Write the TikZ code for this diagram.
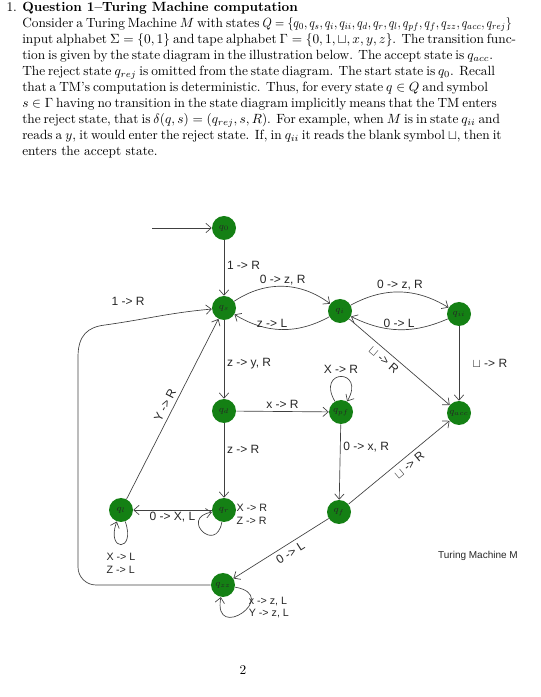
\documentclass[tikz,border=0pt]{standalone}
\usepackage{amsmath,amssymb}
\usepackage{graphicx}
\usepackage{fontspec}
\newfontfamily\handfont{Liberation Sans}
\usepackage{xcolor}
\usetikzlibrary{positioning,arrows.meta}
\definecolor{stategreen}{RGB}{20,128,20}
\hbadness=10000
\hfuzz=50pt

\begin{document}
\begin{tikzpicture}[x=0.75pt,y=0.75pt,
  tmstate/.style={circle, fill=stategreen, minimum size=18pt, inner sep=0pt, font=\scriptsize, text=black!85},
  trans/.style={-{Straight Barb[length=4pt,width=7pt]}, black!75, line width=0.5pt},
  lbl/.style={font=\handfont\small, text=black!85, inner sep=2pt},
  loopnote/.style={font=\handfont\footnotesize, text=black!85, inner sep=0pt, align=left}]
  \useasboundingbox (0,0) rectangle (540,697);
  % Question text
  \node[anchor=north west, inner sep=0pt, align=left] (intro) at (22,695) {%
    \llap{1.\hspace{4pt}}\textbf{Question 1--Turing Machine computation}\\
    \makebox[346pt][s]{Consider a Turing Machine $M$ with states \resizebox{187pt}{\height}{$Q=\{q_0,q_s,q_i,q_{ii},q_d,q_r,q_l,q_{pf},q_f,q_{zz},q_{acc},q_{rej}\}$}}\\
    \makebox[346pt][s]{input alphabet $\Sigma=\{0,1\}$ and tape alphabet $\Gamma=\{0,1,\sqcup,x,y,z\}$. The transition func-}\\
    \makebox[346pt][s]{tion is given by the state diagram in the illustration below. The accept state is $q_{acc}$.}\\
    \makebox[346pt][s]{The reject state $q_{rej}$ is omitted from the state diagram. The start state is $q_0$. Recall}\\
    \makebox[346pt][s]{that a TM's computation is deterministic. Thus, for every state $q\in Q$ and symbol}\\
    \makebox[346pt][s]{$s\in\Gamma$ having no transition in the state diagram implicitly means that the TM enters}\\
    \makebox[346pt][s]{the reject state, that is $\delta(q,s)=(q_{rej},s,R)$. For example, when $M$ is in state $q_{ii}$ and}\\
    \makebox[346pt][s]{reads a $y$, it would enter the reject state. If, in $q_{ii}$ it reads the blank symbol $\sqcup$, then it}\\
    enters the accept state.};
  % States
  \node[tmstate] (q0) at (224,469) {$q_0$};
  \node[tmstate] (qs) at (224,389) {$q_s$};
  \node[tmstate] (qi) at (340,386) {$q_i$};
  \node[tmstate] (qii) at (459,383) {$q_{ii}$};
  \node[tmstate] (qd) at (224,286) {$q_d$};
  \node[tmstate] (qpf) at (341,285) {$q_{pf}$};
  \node[tmstate] (qacc) at (459,284) {$q_{acc}$};
  \node[tmstate] (ql) at (121,187) {$q_l$};
  \node[tmstate] (qr) at (224,187) {$q_r$};
  \node[tmstate] (qf) at (339,185) {$q_f$};
  \node[tmstate] (qzz) at (223,112) {$q_{zz}$};
  \coordinate (start) at (152,469);
  % Transitions
  \draw[trans] (start) -- (q0);
  \draw[trans] (q0) -- node[lbl, right, pos=0.45] {1 -> R} (qs);
  \draw[trans] (qs) to[bend left=35] node[lbl, above, inner sep=1pt] {0 -> z, R} (qi);
  \draw[trans] (qi) to[bend left=30] node[lbl, above, pos=0.6, inner sep=1pt] {z -> L} (qs);
  \draw[trans] (qi) to[bend left=30] node[lbl, above, inner sep=1pt] {0 -> z, R} (qii);
  \draw[trans] (qii) to[bend left=25] node[lbl, above, inner sep=1pt] {0 -> L} (qi);
  \draw[trans] (qi) -- node[lbl, sloped, below, pos=0.4, inner sep=3pt] {$\sqcup$ -> R} (qacc);
  \draw[trans] (qii) -- node[lbl, right=8pt] {$\sqcup$ -> R} (qacc);
  \draw[trans] (qs) -- node[lbl, right, pos=0.55] {z -> y, R} (qd);
  \draw[trans] (qd) -- node[lbl, above] {x -> R} (qpf);
  \draw[trans] (qpf) to[out=120, in=60, looseness=8] node[lbl, above] {X -> R} (qpf);
  \draw[trans] (qpf) -- node[lbl, right, pos=0.3] {0 -> x, R} (qf);
  \draw[trans] (qf) -- node[lbl, sloped, below, pos=0.55, inner sep=3pt] {$\sqcup$ -> R} (qacc);
  \draw[trans] (qd) -- node[lbl, right, pos=0.35] {z -> R} (qr);
  \draw[trans] (qr) -- node[lbl, below, inner sep=1pt] {0 -> X, L} (ql);
  \draw[trans] (qr) to[out=-100, in=-170, looseness=6] (qr);
  \node[loopnote, right=0pt of qr, yshift=-3pt] (qrloop) {X -> R\\Z -> R};
  \draw[trans] (ql) to[out=-70, in=-110, looseness=10] (ql);
  \node[loopnote, below=23pt of ql] (qlloop) {X -> L\\Z -> L};
  \draw[trans] (ql) -- node[lbl, sloped, above, pos=0.5, inner sep=3pt] {Y -> R} (qs);
  \draw[trans] (qf) -- node[lbl, sloped, below, pos=0.45, inner sep=3pt] {0 -> L} (qzz);
  \draw[trans] (qzz) to[out=-10, in=-100, looseness=7] (qzz);
  \node[loopnote, right=10pt of qzz, yshift=-17pt] (qzzloop) {x -> z, L\\Y -> z, L};
  \draw[trans] (qzz) -- (96,112) to[out=180, in=-90] (78,130) -- (78,340)
    .. controls (78,362) and (88,370) .. (105,372)
    to[out=8, in=185] node[lbl, above=10pt, pos=0.2] {1 -> R} (qs);
  % Caption and page number
  \node[font=\handfont\fontsize{7.5}{9}\selectfont, text=black!85] (caption) at (478,141) {Turing Machine M};
  \node (pagenum) at (243,27) {2};
\end{tikzpicture}
\end{document}
